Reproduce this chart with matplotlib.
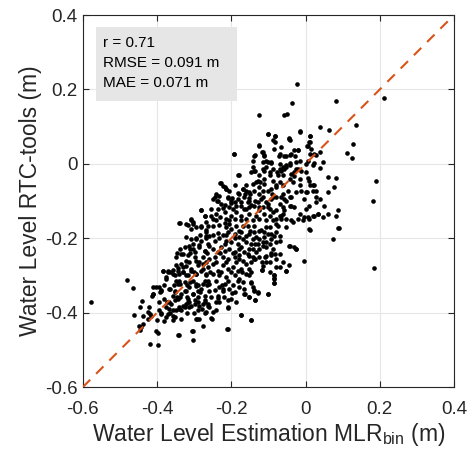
import matplotlib
matplotlib.use("Agg")
import matplotlib.pyplot as plt
from matplotlib.patches import Rectangle
import numpy as np

plt.rcParams['font.family'] = ['Liberation Sans', 'DejaVu Sans']
plt.rcParams['mathtext.fontset'] = 'custom'
plt.rcParams['mathtext.rm'] = 'Liberation Sans'
plt.rcParams['mathtext.it'] = 'Liberation Sans:italic'

# (MLR_bin estimate, RTC-tools) pairs, by region
pts_top = [(-0.023,0.215),(-0.037,0.163),(-0.057,0.132),(-0.049,0.134),(-0.124,0.132),(-0.102,0.081),
           (-0.081,0.075),(-0.045,0.069),(-0.014,0.088),(0.011,0.075),(0.040,0.099),(0.062,0.092),
           (0.082,0.168),(0.135,0.105),(0.211,0.177)]
pts_right = [(0.128,0.054),(0.113,0.030),(0.126,0.017),(0.190,-0.047),(0.181,-0.099),(0.185,-0.280),(0.090,-0.173)]
pts_upper = [(-0.124,0.051),(-0.083,0.060),(-0.043,0.063),(0.009,0.060),(0.004,0.047),(-0.194,0.027),(-0.137,0.024),
             (-0.115,0.031),(-0.111,0.022),(-0.072,0.022),(-0.059,0.022),(-0.043,0.024),(-0.021,0.036),(-0.027,0.022),
             (0.015,0.040),(0.013,0.027),(0.027,0.024),(0.038,0.031),(-0.102,0.006),(-0.093,0.003),(-0.142,0.007),
             (-0.070,0.000),(-0.052,-0.004),(-0.041,0.002),(-0.025,0.006),(-0.014,0.009),(0.002,0.000),(0.006,0.009),
             (0.024,0.003),(0.047,0.006),(-0.106,-0.009),(-0.115,-0.013),(-0.088,-0.015),(-0.065,-0.018),(-0.057,-0.015),
             (-0.075,-0.029),(-0.030,-0.022),(-0.021,-0.013),(-0.012,-0.020),(0.002,-0.022),(0.038,-0.012),(-0.180,-0.030),
             (-0.146,-0.022),(-0.135,-0.018),(0.060,-0.036),(0.083,-0.038),(-0.227,-0.052),(-0.218,-0.063),(-0.214,-0.067),
             (-0.191,-0.056),(-0.169,-0.067),(-0.164,-0.081),(-0.151,-0.076),(-0.160,-0.058),(-0.133,-0.049),(-0.124,-0.063),
             (-0.115,-0.074),(-0.111,-0.040),(-0.097,-0.031),(-0.088,-0.045),(-0.070,-0.049),(-0.079,-0.063),(-0.061,-0.058),
             (-0.043,-0.040),(-0.034,-0.049),(-0.048,-0.072),(-0.016,-0.040),(-0.016,-0.058),(-0.025,-0.076),(0.010,-0.045),
             (0.019,-0.058),(0.004,-0.076),(0.028,-0.072),(0.060,-0.076),(0.078,-0.063)]
pts_mid = [(-0.241,-0.081),(-0.250,-0.094),(-0.236,-0.099),(-0.209,-0.090),(-0.200,-0.099),(-0.218,-0.110),(-0.182,-0.094),
           (-0.173,-0.103),(-0.187,-0.112),(-0.151,-0.092),(-0.137,-0.099),(-0.146,-0.110),(-0.119,-0.094),(-0.106,-0.103),
           (-0.115,-0.117),(-0.092,-0.094),(-0.079,-0.090),(-0.070,-0.108),(-0.052,-0.099),(-0.039,-0.090),(-0.043,-0.112),
           (-0.003,-0.094),(0.002,-0.121),(0.010,-0.112),(0.028,-0.103),(0.038,-0.094),(0.051,-0.112),(0.060,-0.134),
           (0.087,-0.125),(0.083,-0.139),(-0.016,-0.134),(-0.003,-0.143),(0.010,-0.148),(0.024,-0.139),(0.033,-0.134),
           (0.047,-0.143),(-0.039,-0.152),(-0.021,-0.148),(0.010,-0.175),(0.087,-0.173),(0.074,-0.202),(-0.043,-0.220),
           (-0.025,-0.229),(-0.066,-0.139),(-0.057,-0.125),(-0.079,-0.148),(-0.075,-0.166),(-0.097,-0.139),(-0.106,-0.152),
           (-0.097,-0.170),(-0.111,-0.184),(-0.070,-0.193),(-0.079,-0.211),(-0.092,-0.202),(-0.088,-0.229),(-0.115,-0.211),
           (-0.124,-0.229),(-0.106,-0.247),(-0.142,-0.229),(-0.151,-0.247),(-0.137,-0.256),(-0.097,-0.265),(-0.079,-0.256),
           (-0.070,-0.278),(-0.115,-0.274)]
pts_z10 = [(-0.102,0.081),(-0.082,0.074),(-0.045,0.067),(-0.014,0.087),(0.011,0.076),(0.011,0.060),(0.006,0.049),
           (-0.124,0.049),(-0.138,0.022),(-0.117,0.031),(-0.111,0.024),(-0.088,0.063),(-0.084,0.040),(-0.066,0.045),
           (-0.070,0.027),(-0.052,0.022),(-0.039,0.027),(-0.030,0.036),(-0.021,0.036),(-0.142,-0.009),(-0.138,-0.018),
           (-0.115,0.004),(-0.106,0.009),(-0.093,0.004),(-0.111,-0.018),(-0.097,-0.022),(-0.124,-0.031),(-0.070,-0.013),
           (-0.061,-0.009),(-0.052,-0.009),(-0.043,-0.004),(-0.077,-0.022),(-0.061,-0.031),(-0.039,-0.027),(-0.030,-0.033),
           (-0.025,-0.013),(0.006,-0.038),(0.020,-0.004),(0.024,0.027),(-0.169,-0.067),(-0.160,-0.072),(-0.178,-0.081),
           (-0.165,-0.090),(-0.151,-0.099),(-0.138,-0.072),(-0.129,-0.045),(-0.122,-0.049),(-0.111,-0.054),(-0.102,-0.072),
           (-0.093,-0.067),(-0.142,-0.054),(-0.088,-0.090),(-0.079,-0.058),(-0.066,-0.090),(-0.057,-0.094),(-0.043,-0.090),
           (-0.039,-0.112),(-0.030,-0.116),(-0.012,-0.072),(0.002,-0.076),(0.011,-0.058),(0.024,-0.058),(0.020,-0.072),
           (0.029,-0.090),(-0.174,-0.112),(-0.165,-0.121),(-0.151,-0.116),(-0.138,-0.112),(-0.124,-0.125),(-0.111,-0.134),
           (-0.097,-0.121),(-0.088,-0.130),(-0.079,-0.125),(-0.070,-0.139),(-0.061,-0.134),(-0.088,-0.152),(-0.066,-0.148),
           (-0.052,-0.148),(-0.034,-0.157),(-0.007,-0.152),(0.006,-0.143),(0.020,-0.139),(0.033,-0.134),(-0.124,-0.148),
           (-0.142,-0.152),(-0.160,-0.148),(-0.169,-0.166),(-0.138,-0.166),(-0.106,-0.170),
           (-0.156,-0.103),(-0.129,-0.103),(-0.102,-0.107),(-0.151,-0.134),(-0.133,-0.139),(-0.079,-0.161),
           (-0.052,-0.170),(-0.174,-0.139),(-0.115,-0.090),(-0.156,-0.166)]
pts_z9 = [(-0.194,0.027),(-0.182,-0.031),(-0.230,-0.051),(-0.221,-0.060),(-0.214,-0.067),(-0.207,-0.072),(-0.182,-0.078),
          (-0.245,-0.090),(-0.232,-0.085),(-0.238,-0.099),(-0.209,-0.091),(-0.198,-0.091),(-0.227,-0.108),(-0.202,-0.105),
          (-0.191,-0.103),(-0.236,-0.121),(-0.223,-0.119),(-0.205,-0.116),(-0.281,-0.123),(-0.272,-0.139),(-0.254,-0.139),
          (-0.241,-0.134),(-0.230,-0.143),(-0.214,-0.148),(-0.200,-0.139),(-0.189,-0.148),(-0.340,-0.159),(-0.322,-0.161),
          (-0.308,-0.148),(-0.304,-0.155),(-0.281,-0.166),(-0.263,-0.168),(-0.250,-0.168),(-0.232,-0.164),(-0.218,-0.159),
          (-0.205,-0.161),(-0.187,-0.166),
          (-0.250,-0.148),(-0.268,-0.157),(-0.218,-0.130),(-0.187,-0.130),(-0.295,-0.170),(-0.214,-0.170)]
pts_z3 = [(-0.281,-0.124),(-0.272,-0.141),(-0.338,-0.159),(-0.308,-0.150),(-0.303,-0.161),(-0.317,-0.164),(-0.281,-0.170),
          (-0.321,-0.197),(-0.308,-0.202),(-0.295,-0.202),(-0.268,-0.179),(-0.269,-0.193),(-0.339,-0.228),(-0.330,-0.242),
          (-0.348,-0.251),(-0.312,-0.228),(-0.299,-0.237),(-0.286,-0.219),(-0.272,-0.233),(-0.321,-0.260),(-0.295,-0.260),
          (-0.277,-0.269),(-0.348,-0.273),(-0.330,-0.278)]
pts_z11 = [(-0.308,-0.175),(-0.268,-0.184),(-0.259,-0.194),(-0.236,-0.185),(-0.223,-0.191),(-0.209,-0.182),(-0.200,-0.175),
           (-0.189,-0.188),(-0.178,-0.197),(-0.245,-0.206),(-0.214,-0.206),(-0.200,-0.211),(-0.281,-0.206),(-0.326,-0.224),
           (-0.313,-0.220),(-0.304,-0.228),(-0.286,-0.224),(-0.272,-0.233),(-0.259,-0.220),(-0.250,-0.228),(-0.236,-0.237),
           (-0.227,-0.224),(-0.218,-0.233),(-0.205,-0.228),(-0.191,-0.237),(-0.178,-0.228),(-0.335,-0.242),(-0.317,-0.246),
           (-0.299,-0.251),(-0.277,-0.251),(-0.259,-0.255),(-0.245,-0.251),(-0.223,-0.251),(-0.209,-0.255),(-0.191,-0.251),
           (-0.178,-0.255),(-0.384,-0.289),(-0.371,-0.287),(-0.358,-0.284),(-0.344,-0.280),(-0.375,-0.305),(-0.353,-0.300),
           (-0.335,-0.269),(-0.322,-0.275),(-0.308,-0.282),(-0.290,-0.273),(-0.277,-0.282),(-0.263,-0.278),(-0.250,-0.269),
           (-0.236,-0.287),(-0.223,-0.273),(-0.209,-0.282),(-0.196,-0.278),(-0.182,-0.287),(-0.340,-0.296),(-0.317,-0.300),
           (-0.295,-0.296),(-0.268,-0.300),(-0.250,-0.296),(-0.232,-0.300),(-0.214,-0.305),(-0.191,-0.300),(-0.394,-0.331),
           (-0.367,-0.336),(-0.344,-0.322),(-0.326,-0.318),(-0.313,-0.331),(-0.295,-0.322),(-0.281,-0.336),(-0.259,-0.322),
           (-0.245,-0.340),(-0.232,-0.331),(-0.218,-0.322),(-0.205,-0.336),(-0.191,-0.345),(-0.178,-0.331),(-0.380,-0.363),
           (-0.358,-0.354),(-0.335,-0.349),(-0.304,-0.349),(-0.272,-0.354),(-0.236,-0.354),(-0.200,-0.363),(-0.375,-0.385),
           (-0.358,-0.394),(-0.340,-0.390),(-0.326,-0.385),(-0.308,-0.381),(-0.277,-0.376),(-0.259,-0.385),(-0.250,-0.399),
           (-0.209,-0.385),(-0.375,-0.412),(-0.353,-0.412),(-0.335,-0.417),(-0.295,-0.417),(-0.254,-0.415),(-0.277,-0.436),
           (-0.304,-0.448),(-0.209,-0.443),(-0.344,-0.461),(-0.389,-0.403)]
pts_z11b = [(-0.295,-0.200),(-0.268,-0.200),(-0.232,-0.200),(-0.191,-0.200),(-0.304,-0.215),(-0.263,-0.215),(-0.218,-0.215),
            (-0.182,-0.215),(-0.313,-0.264),(-0.286,-0.264),(-0.268,-0.264),(-0.241,-0.264),(-0.214,-0.264),(-0.187,-0.264),
            (-0.340,-0.314),(-0.304,-0.314),(-0.272,-0.314),(-0.241,-0.314),(-0.209,-0.314),(-0.182,-0.314),(-0.353,-0.343),
            (-0.322,-0.343),(-0.290,-0.343),(-0.259,-0.343),(-0.223,-0.343),(-0.367,-0.372),(-0.317,-0.372),(-0.290,-0.372),
            (-0.232,-0.372),(-0.187,-0.372)]
pts_core = [(-0.285,-0.190),(-0.250,-0.190),(-0.215,-0.190),(-0.345,-0.240),(-0.310,-0.240),(-0.265,-0.240),(-0.230,-0.240),
            (-0.195,-0.240),(-0.365,-0.290),(-0.330,-0.290),(-0.300,-0.290),(-0.258,-0.290),(-0.228,-0.290),(-0.200,-0.290),
            (-0.170,-0.290),(-0.380,-0.325),(-0.355,-0.325),(-0.320,-0.325),(-0.290,-0.325),(-0.265,-0.325),(-0.225,-0.325),
            (-0.195,-0.325),(-0.345,-0.358),(-0.320,-0.358),(-0.290,-0.358),(-0.255,-0.358),(-0.220,-0.358),(-0.390,-0.400),
            (-0.365,-0.400),(-0.320,-0.400),(-0.300,-0.400),(-0.270,-0.400),(-0.240,-0.150),(-0.205,-0.150),(-0.175,-0.150),
            (-0.255,-0.120),(-0.195,-0.120),(-0.160,-0.120),(-0.180,-0.180),(-0.150,-0.180),(-0.125,-0.180),(-0.150,-0.080),
            (-0.125,-0.080),(-0.090,-0.080),(-0.060,-0.080),(-0.125,-0.115),(-0.100,-0.115),(-0.060,-0.115),(-0.135,-0.215),
            (-0.095,-0.215),(-0.110,-0.250)]
pts_z12 = [(0.011,-0.177),(-0.045,-0.220),(-0.030,-0.224),(-0.025,-0.230),(-0.005,-0.262),(-0.061,-0.264),(-0.045,-0.271),
           (-0.052,-0.289),(-0.079,-0.278),(-0.084,-0.300),(-0.086,-0.309),(-0.086,-0.320),(-0.102,-0.349),(-0.070,-0.242),
           (-0.081,-0.242),(-0.093,-0.246),(-0.094,-0.239),(-0.117,-0.284),(-0.117,-0.264),(-0.124,-0.251),(-0.142,-0.251),
           (-0.133,-0.237),(-0.146,-0.318),(-0.138,-0.340),(-0.129,-0.345),(-0.165,-0.349),(-0.153,-0.358),(-0.135,-0.366),
           (-0.174,-0.406),(-0.147,-0.421),(-0.070,-0.206),(-0.084,-0.193),(-0.079,-0.184),(-0.093,-0.188),(-0.106,-0.210),
           (-0.115,-0.220),(-0.106,-0.224),(-0.124,-0.202),(-0.111,-0.197),(-0.120,-0.179),(-0.102,-0.188),(-0.138,-0.184),
           (-0.151,-0.188),(-0.133,-0.197),(-0.142,-0.202),(-0.147,-0.215),(-0.160,-0.211),(-0.169,-0.202),(-0.174,-0.224),
           (-0.165,-0.237),(-0.156,-0.242),(-0.169,-0.260),(-0.160,-0.269),(-0.174,-0.282),(-0.151,-0.282),(-0.160,-0.296),
           (-0.178,-0.309),(-0.169,-0.318),(-0.151,-0.300),
           (-0.174,-0.184),(-0.160,-0.193),(-0.129,-0.215),(-0.151,-0.228),(-0.138,-0.255),(-0.178,-0.246),(-0.147,-0.264),
           (-0.106,-0.264),(-0.097,-0.291),(-0.142,-0.331),(-0.165,-0.336)]
pts_z7 = [(-0.117,-0.284),(-0.086,-0.298),(-0.085,-0.307),(-0.086,-0.321),(-0.052,-0.289),(-0.146,-0.291),(-0.146,-0.321),
          (-0.164,-0.349),(-0.153,-0.358),(-0.139,-0.341),(-0.128,-0.347),(-0.136,-0.366),(-0.101,-0.349),(-0.175,-0.406),
          (-0.147,-0.421),(-0.212,-0.445),(-0.209,-0.387),(-0.209,-0.367),(-0.241,-0.392),(-0.252,-0.417),(-0.198,-0.347),
          (-0.223,-0.336),(-0.241,-0.372),(-0.236,-0.361)]
pts_z6 = [(-0.577,-0.370),(-0.482,-0.312),(-0.464,-0.333),(-0.440,-0.368),(-0.445,-0.384),(-0.461,-0.406),(-0.439,-0.408),
          (-0.421,-0.384),(-0.424,-0.397),(-0.420,-0.403),(-0.416,-0.408),(-0.425,-0.417),(-0.450,-0.435),(-0.443,-0.439),
          (-0.439,-0.430),(-0.447,-0.446),(-0.419,-0.484),(-0.398,-0.488),(-0.402,-0.448),(-0.397,-0.454),(-0.342,-0.461),
          (-0.302,-0.473),(-0.305,-0.448),(-0.293,-0.417),(-0.358,-0.408),(-0.358,-0.421),(-0.380,-0.423),(-0.401,-0.421),
          (-0.396,-0.394),(-0.394,-0.372),(-0.413,-0.354),(-0.410,-0.350),(-0.392,-0.345),(-0.389,-0.339),(-0.410,-0.331),
          (-0.371,-0.403),(-0.368,-0.390),(-0.373,-0.372),(-0.362,-0.376),(-0.349,-0.394),(-0.340,-0.385),(-0.335,-0.392),
          (-0.353,-0.367),(-0.344,-0.363),(-0.331,-0.381),(-0.322,-0.376),(-0.313,-0.385),(-0.313,-0.372),(-0.299,-0.376),
          (-0.286,-0.381),(-0.290,-0.394),(-0.278,-0.390),(-0.268,-0.399),(-0.286,-0.417),(-0.263,-0.376),(-0.272,-0.367)]
pts_z6b = [(-0.384,-0.287),(-0.371,-0.291),(-0.357,-0.296),(-0.344,-0.287),(-0.330,-0.291),(-0.321,-0.300),(-0.308,-0.289),
           (-0.295,-0.296),(-0.281,-0.287),(-0.268,-0.296),(-0.375,-0.309),(-0.348,-0.314),(-0.339,-0.323),(-0.312,-0.318),
           (-0.295,-0.327),(-0.277,-0.323),(-0.263,-0.314),(-0.402,-0.332),(-0.389,-0.341),(-0.366,-0.336),(-0.353,-0.345),
           (-0.326,-0.341),(-0.303,-0.349),(-0.285,-0.345),(-0.411,-0.350),(-0.339,-0.359),(-0.317,-0.363),(-0.299,-0.367),
           (-0.272,-0.372),(-0.263,-0.381)]

stats_lines = ["r = 0.71", "RMSE = 0.091 m", "MAE = 0.071 m"]
xticks = [-0.6, -0.4, -0.2, 0, 0.2, 0.4]
yticks = [-0.6, -0.4, -0.2, 0, 0.2, 0.4]
tick_labels = ["-0.6", "-0.4", "-0.2", "0", "0.2", "0.4"]

all_pts = np.array(pts_top + pts_right + pts_upper + pts_mid + pts_z10 + pts_z9 + pts_z3 +
                   pts_z11 + pts_z11b + pts_core + pts_z12 + pts_z7 + pts_z6 + pts_z6b)

fig = plt.figure(figsize=(4.68, 4.57), dpi=100)
ax = fig.add_axes([0.177, 0.153, 0.793, 0.814])
ax.grid(True, color='#e6e6e6', linewidth=0.8)
ax.set_axisbelow(True)
ax.plot([-0.6, 0.4], [-0.6, 0.4], color='#D95319', linewidth=1.5, dashes=(5, 4), zorder=3)
ax.scatter(all_pts[:, 0], all_pts[:, 1], s=11, color='black', linewidths=0, zorder=2)
ax.set_xlim(-0.6, 0.4)
ax.set_ylim(-0.6, 0.4)
ax.set_xticks(xticks)
ax.set_xticklabels(tick_labels)
ax.set_yticks(yticks)
ax.set_yticklabels(tick_labels)
ax.tick_params(direction='in', length=4, width=0.8, top=True, right=True, labelsize=13.5,
               colors='#262626')
ax.tick_params(axis='x', pad=10)
ax.tick_params(axis='y', pad=4)
for s in ax.spines.values():
    s.set_color('#262626')
    s.set_linewidth(0.8)
ax.set_xlabel('Water Level Estimation MLR$_{\\mathrm{bin}}$ (m)', fontsize=16.5, color='#262626', labelpad=2)
ax.set_ylabel('Water Level RTC-tools (m)', fontsize=16.5, color='#262626', labelpad=2)

ax.add_patch(Rectangle((0.035, 0.769), 0.380, 0.199, transform=ax.transAxes,
                       facecolor='#e6e6e6', edgecolor='none', zorder=4))
for i, line in enumerate(stats_lines):
    ax.text(0.054, 0.925 - i * 0.054, line, transform=ax.transAxes, fontsize=11,
            va='center', ha='left', color='black', zorder=5)
fig.savefig('out.png', dpi=100)
